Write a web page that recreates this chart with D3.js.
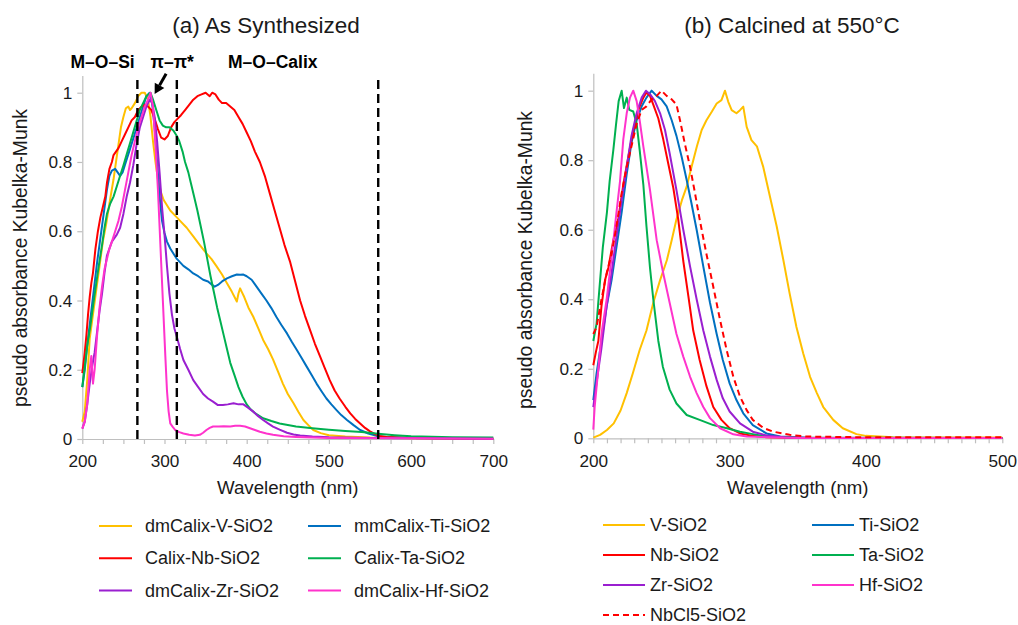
<!DOCTYPE html>
<html>
<head>
<meta charset="utf-8">
<script src="https://cdn.jsdelivr.net/npm/d3@7"></script>
<style>
  body { margin: 0; background: #fff; }
  svg { display: block; font-family: "Liberation Sans", Arial, sans-serif; }
</style>
</head>
<body>
<script>
// ---------- (a) As-synthesized spectra: [wavelength nm, pseudo absorbance] ----------
const asV = [[200,0.05],[203,0.08],[206,0.17],[209,0.29],[213,0.36],[217,0.43],[221,0.5],[225,0.57],[229,0.62],[233,0.68],[238,0.75],[241,0.8],[244,0.85],[247,0.9],[250,0.93],[253,0.955],[256,0.96],[258,0.95],[260,0.955],[264,0.97],[268,0.99],[272,1.0],[276,1.0],[280,0.98],[283,0.93],[286,0.86],[289,0.8],[292,0.75],[296,0.71],[299,0.69],[303,0.675],[307,0.66],[313,0.645],[319,0.63],[327,0.61],[335,0.585],[343,0.56],[351,0.536],[357,0.52],[363,0.5],[370,0.475],[376,0.45],[382,0.425],[388,0.397],[390,0.42],[392,0.435],[394,0.425],[397,0.41],[402,0.38],[408,0.353],[414,0.32],[420,0.286],[426,0.26],[432,0.23],[438,0.195],[444,0.16],[450,0.13],[457,0.103],[463,0.078],[469,0.055],[475,0.04],[481,0.026],[490,0.017],[500,0.011],[520,0.007],[550,0.004],[600,0.002],[650,0.001],[700,0.001]];
const asNb = [[200,0.19],[201,0.21],[203,0.25],[205,0.3],[207,0.36],[209,0.41],[211,0.45],[213,0.48],[216,0.55],[219,0.6],[222,0.64],[225,0.67],[228,0.7],[230,0.74],[233,0.78],[236,0.8],[238,0.82],[241,0.83],[244,0.84],[248,0.86],[252,0.88],[256,0.9],[260,0.92],[264,0.93],[268,0.95],[272,0.96],[276,0.965],[280,0.96],[284,0.95],[288,0.925],[292,0.895],[296,0.87],[300,0.865],[304,0.875],[308,0.9],[312,0.915],[316,0.925],[320,0.935],[325,0.95],[330,0.965],[335,0.98],[340,0.99],[345,0.995],[350,1.0],[355,0.99],[358,1.0],[362,0.995],[366,0.98],[370,0.97],[375,0.97],[380,0.96],[385,0.95],[390,0.93],[395,0.91],[400,0.885],[405,0.86],[410,0.83],[416,0.8],[422,0.76],[428,0.71],[434,0.66],[440,0.61],[446,0.56],[453,0.51],[459,0.455],[465,0.4],[471,0.355],[477,0.315],[483,0.275],[489,0.24],[495,0.205],[501,0.17],[507,0.14],[513,0.117],[520,0.093],[526,0.074],[532,0.058],[538,0.045],[544,0.032],[550,0.022],[556,0.014],[561,0.009],[570,0.006],[600,0.003],[650,0.002],[700,0.001]];
const asZr = [[200,0.03],[203,0.05],[206,0.1],[209,0.16],[212,0.21],[215,0.25],[218,0.31],[221,0.37],[224,0.42],[227,0.48],[230,0.53],[233,0.55],[236,0.57],[239,0.58],[242,0.59],[246,0.61],[250,0.65],[254,0.7],[258,0.74],[262,0.79],[266,0.85],[270,0.9],[274,0.93],[278,0.96],[282,0.98],[285,0.97],[288,0.93],[291,0.86],[294,0.77],[297,0.67],[300,0.59],[303,0.5],[306,0.42],[309,0.36],[312,0.32],[315,0.295],[319,0.26],[323,0.228],[329,0.2],[335,0.17],[341,0.15],[347,0.13],[353,0.117],[359,0.108],[365,0.098],[371,0.098],[377,0.1],[384,0.103],[390,0.1],[396,0.1],[402,0.09],[408,0.079],[414,0.066],[420,0.055],[426,0.045],[432,0.036],[440,0.027],[449,0.018],[457,0.013],[465,0.01],[480,0.007],[500,0.005],[550,0.003],[600,0.002],[700,0.001]];
const asTi = [[200,0.15],[203,0.2],[206,0.27],[210,0.35],[214,0.43],[218,0.51],[222,0.58],[226,0.65],[230,0.72],[233,0.76],[236,0.775],[240,0.78],[243,0.77],[246,0.76],[249,0.77],[253,0.8],[257,0.83],[261,0.86],[265,0.89],[270,0.93],[274,0.96],[278,0.99],[282,1.0],[285,0.97],[288,0.9],[291,0.8],[294,0.7],[297,0.63],[300,0.595],[303,0.57],[307,0.55],[311,0.535],[315,0.52],[319,0.51],[323,0.5],[329,0.49],[335,0.478],[341,0.47],[347,0.46],[353,0.455],[358,0.445],[361,0.44],[365,0.445],[370,0.455],[376,0.464],[382,0.47],[388,0.475],[392,0.474],[396,0.475],[400,0.47],[406,0.46],[412,0.44],[418,0.42],[424,0.4],[430,0.378],[436,0.353],[442,0.33],[449,0.305],[455,0.28],[461,0.257],[467,0.233],[473,0.209],[479,0.185],[485,0.16],[491,0.138],[497,0.117],[503,0.1],[509,0.084],[515,0.069],[522,0.055],[530,0.04],[538,0.026],[548,0.016],[558,0.009],[570,0.006],[600,0.003],[650,0.002],[700,0.001]];
const asTa = [[200,0.15],[203,0.21],[206,0.27],[210,0.33],[214,0.4],[217,0.45],[220,0.5],[224,0.56],[227,0.61],[230,0.65],[234,0.68],[238,0.7],[242,0.73],[246,0.76],[250,0.79],[255,0.83],[260,0.87],[265,0.91],[270,0.95],[274,0.97],[278,0.99],[283,1.0],[286,0.98],[290,0.95],[294,0.92],[298,0.905],[302,0.9],[306,0.9],[311,0.89],[315,0.875],[318,0.86],[322,0.83],[325,0.8],[329,0.77],[332,0.74],[336,0.7],[340,0.66],[344,0.615],[348,0.57],[352,0.52],[356,0.47],[360,0.425],[364,0.38],[368,0.34],[372,0.3],[376,0.26],[380,0.22],[385,0.185],[390,0.15],[395,0.122],[400,0.1],[405,0.085],[410,0.075],[420,0.06],[430,0.052],[440,0.045],[460,0.036],[480,0.031],[500,0.027],[520,0.023],[540,0.02],[560,0.015],[580,0.011],[600,0.008],[650,0.005],[700,0.004]];
const asHf = [[200,0.03],[203,0.05],[206,0.1],[209,0.2],[211,0.24],[213,0.16],[215,0.2],[218,0.3],[221,0.38],[224,0.44],[227,0.49],[230,0.52],[233,0.55],[236,0.57],[240,0.6],[244,0.63],[248,0.67],[252,0.72],[256,0.77],[260,0.82],[264,0.86],[268,0.9],[272,0.93],[276,0.96],[280,0.98],[283,1.0],[286,0.96],[289,0.85],[292,0.72],[295,0.56],[298,0.4],[301,0.24],[303,0.14],[305,0.08],[307,0.045],[310,0.035],[313,0.026],[318,0.02],[323,0.016],[330,0.012],[337,0.01],[343,0.012],[347,0.018],[351,0.026],[355,0.032],[359,0.036],[366,0.036],[372,0.037],[380,0.036],[386,0.038],[392,0.038],[398,0.036],[404,0.031],[410,0.026],[416,0.021],[424,0.016],[432,0.012],[445,0.008],[460,0.006],[480,0.004],[500,0.003],[600,0.002],[700,0.001]];

// ---------- (b) Calcined at 550 °C ----------
const calV = [[200,0.002],[205,0.01],[210,0.024],[215,0.043],[220,0.08],[224.5,0.13],[229,0.187],[234,0.254],[239,0.31],[244,0.39],[249,0.455],[254,0.513],[257.5,0.57],[261,0.63],[265,0.685],[268.5,0.724],[272,0.78],[276,0.84],[279.5,0.887],[283,0.915],[287,0.94],[290.5,0.963],[294,0.973],[296.6,1.0],[299,0.968],[301.5,0.944],[305,0.935],[307.6,0.944],[310,0.954],[312.5,0.896],[316,0.858],[320,0.84],[324.7,0.78],[329.6,0.695],[334.5,0.61],[339.4,0.513],[344,0.417],[349,0.32],[354,0.244],[359,0.177],[364,0.13],[368.7,0.09],[376,0.053],[383,0.029],[393,0.012],[400,0.007],[420,0.003],[500,0.002]];
const calNb = [[200,0.21],[202,0.25],[203.7,0.28],[206,0.38],[208.6,0.455],[211,0.49],[214.7,0.57],[218.3,0.63],[222,0.73],[225.7,0.81],[229.3,0.885],[233,0.945],[236.7,0.98],[239,0.995],[241.6,0.985],[244,0.96],[247.7,0.92],[251.3,0.86],[255,0.79],[258.7,0.72],[262.3,0.63],[266,0.51],[269.7,0.41],[273.3,0.31],[278,0.225],[283,0.15],[288,0.09],[294,0.053],[300,0.029],[307.6,0.014],[317,0.007],[327,0.003],[350,0.001],[500,0.001]];
const calZr = [[200,0.09],[202.4,0.16],[206,0.26],[209.8,0.38],[213.4,0.475],[217,0.58],[220.8,0.685],[224.5,0.78],[228,0.87],[231.8,0.935],[235.5,0.98],[238.6,1.0],[241.6,0.99],[245.2,0.97],[249,0.935],[252.6,0.887],[256,0.82],[261,0.714],[266,0.6],[271,0.494],[275.8,0.4],[280.7,0.31],[285.6,0.235],[290.5,0.168],[295,0.115],[300,0.077],[307.6,0.043],[317,0.019],[327,0.008],[340,0.003],[360,0.001],[500,0.001]];
const calTi = [[200,0.11],[202.4,0.187],[206,0.28],[209.8,0.38],[213.4,0.455],[217,0.55],[220.8,0.65],[224.5,0.76],[228,0.85],[231.8,0.915],[235.5,0.955],[239,0.98],[242.8,1.0],[246.5,0.985],[250,0.975],[253.8,0.955],[257.5,0.915],[261,0.87],[264.8,0.81],[268.5,0.743],[272,0.676],[275.8,0.6],[280.7,0.494],[285.6,0.39],[290.5,0.3],[295,0.225],[300,0.158],[305,0.11],[310,0.072],[317,0.038],[327,0.014],[337,0.005],[360,0.001],[500,0.001]];
const calTa = [[200,0.28],[202.4,0.33],[205,0.455],[207,0.55],[210,0.65],[212,0.74],[214.7,0.83],[216.6,0.9],[218.6,0.97],[220.8,1.0],[222.5,0.95],[224.5,0.98],[226.4,0.945],[229.3,0.94],[231.8,0.905],[234,0.83],[236.7,0.73],[239,0.61],[241.6,0.49],[244,0.4],[247.7,0.28],[251,0.206],[256,0.14],[261,0.1],[268.5,0.067],[278,0.053],[288,0.038],[298,0.029],[307.6,0.019],[317,0.012],[327,0.005],[350,0.002],[500,0.001]];
const calHf = [[200,0.025],[201,0.09],[203.7,0.2],[206,0.3],[209.8,0.4],[213.4,0.52],[217,0.65],[219.6,0.74],[222,0.86],[224.5,0.935],[226.9,0.98],[229.3,1.0],[231.8,0.97],[234,0.915],[236.7,0.84],[241.6,0.714],[246.5,0.57],[251.3,0.475],[256,0.39],[261,0.3],[266,0.235],[271,0.177],[275.8,0.13],[280.7,0.09],[285.6,0.058],[293,0.029],[302.7,0.0115],[312.5,0.005],[350,0.001],[500,0.001]];
const calNbCl5 = [[200,0.3],[202.4,0.32],[206,0.4],[209.8,0.475],[213.4,0.53],[217,0.61],[220.8,0.705],[224.5,0.78],[228,0.84],[231.8,0.905],[235.5,0.945],[239,0.955],[242.8,0.975],[246.5,0.985],[250,1.0],[253.8,0.985],[257.5,0.975],[261,0.96],[263.6,0.915],[267,0.85],[271,0.78],[274.6,0.705],[278,0.63],[283,0.53],[288,0.436],[293,0.34],[297.8,0.254],[302.7,0.177],[307.6,0.12],[312.5,0.081],[317,0.053],[324.7,0.03],[332,0.019],[344,0.01],[356.5,0.005],[400,0.003],[500,0.003]];

// ---------- annotations for panel (a) ----------
const bandEdges = [267, 315, 560];            // nm, dashed dividers
const bandLabels = ["M–O–Si", "π–π*", "M–O–Calix"];

// ---------- axis ticks ----------
const yTicks = [0, 0.2, 0.4, 0.6, 0.8, 1];
const xTicksA = d3.range(200, 701, 25);
const xTicksB = d3.range(200, 501, 10);

const colors = {
  V: "#FFC000", Nb: "#FF0000", Zr: "#9A1FD0",
  Ti: "#0070C0", Ta: "#00B050", Hf: "#FF33CC"
};

const seriesA = [
  { name: "dmCalix-V-SiO2", data: asV, color: colors.V },
  { name: "mmCalix-Ti-SiO2", data: asTi, color: colors.Ti },
  { name: "Calix-Nb-SiO2", data: asNb, color: colors.Nb },
  { name: "Calix-Ta-SiO2", data: asTa, color: colors.Ta },
  { name: "dmCalix-Zr-SiO2", data: asZr, color: colors.Zr },
  { name: "dmCalix-Hf-SiO2", data: asHf, color: colors.Hf }
];
const seriesB = [
  { name: "V-SiO2", data: calV, color: colors.V },
  { name: "Ti-SiO2", data: calTi, color: colors.Ti },
  { name: "Nb-SiO2", data: calNb, color: colors.Nb },
  { name: "Ta-SiO2", data: calTa, color: colors.Ta },
  { name: "Zr-SiO2", data: calZr, color: colors.Zr },
  { name: "Hf-SiO2", data: calHf, color: colors.Hf },
  { name: "NbCl5-SiO2", data: calNbCl5, color: colors.Nb, dash: "6,4" }
];

const svg = d3.select("body").append("svg")
  .attr("width", 1018).attr("height", 625);

const textColor = "#1a1a1a";
const axisColor = "#BFBFBF";

function drawPanel(p) {
  const x = d3.scaleLinear().domain(p.xDomain).range(p.xRange);
  const y = d3.scaleLinear().domain([0, 1.05]).range(p.yRange);
  const g = svg.append("g");

  // x axis
  const xa = g.append("g")
    .attr("transform", `translate(0,${y(0)})`)
    .call(d3.axisBottom(x).tickValues(p.xTicks)
      .tickSize(5).tickSizeOuter(0).tickPadding(11)
      .tickFormat(d => d % 100 === 0 ? d : ""));
  // y axis
  const ya = g.append("g")
    .attr("transform", `translate(${x(p.xDomain[0])},0)`)
    .call(d3.axisLeft(y).tickValues(yTicks)
      .tickSize(5).tickSizeOuter(0).tickPadding(5)
      .tickFormat(d => String(d)));
  [xa, ya].forEach(a => {
    a.selectAll("path, line").attr("stroke", axisColor).attr("stroke-width", 1.2);
    a.selectAll("text").attr("fill", textColor)
      .style("font-size", "17.2px").style("font-family", "Liberation Sans, Arial, sans-serif");
  });

  // curves
  const line = d3.line().x(d => x(d[0])).y(d => y(d[1]));
  p.series.forEach(s => {
    g.append("path").datum(s.data)
      .attr("d", line).attr("fill", "none")
      .attr("stroke", s.color).attr("stroke-width", 2)
      .attr("stroke-linejoin", "round")
      .attr("stroke-dasharray", s.dash || null);
  });

  // titles
  g.append("text").attr("x", p.titleX).attr("y", 33)
    .attr("text-anchor", "middle").attr("fill", textColor)
    .style("font-size", "22.5px").text(p.title);
  g.append("text")
    .attr("x", (p.xRange[0] + p.xRange[1]) / 2).attr("y", 494)
    .attr("text-anchor", "middle").attr("fill", textColor)
    .style("font-size", "18.7px").text("Wavelength (nm)");
  g.append("text")
    .attr("transform", `translate(${p.yLabelX},${p.yLabelY}) rotate(-90)`)
    .attr("text-anchor", "middle").attr("fill", textColor)
    .style("font-size", "19.3px").text("pseudo absorbance Kubelka-Munk");

  // legend
  p.series.forEach((s, i) => {
    const col = i % 2, row = Math.floor(i / 2);
    const lx = p.legend.x[col], ly = p.legend.y0 + row * p.legend.dy;
    g.append("line")
      .attr("x1", lx).attr("x2", lx + p.legend.len)
      .attr("y1", ly).attr("y2", ly)
      .attr("stroke", s.color).attr("stroke-width", 2)
      .attr("stroke-dasharray", s.dash || null);
    g.append("text")
      .attr("x", lx + p.legend.len + p.legend.gap).attr("y", ly + 6)
      .attr("fill", textColor).style("font-size", "18px").text(s.name);
  });

  return { g, x, y };
}

const A = drawPanel({
  xDomain: [200, 700], xRange: [82.3, 493.3], yRange: [439, 75.4],
  xTicks: xTicksA, series: seriesA,
  title: "(a) As Synthesized", titleX: 266,
  yLabelX: 27, yLabelY: 258,
  legend: { x: [99, 308], y0: 526, dy: 32.3, len: 33, gap: 13 }
});

const B = drawPanel({
  xDomain: [200, 500], xRange: [593.3, 1002.3], yRange: [438.3, 73.3],
  xTicks: xTicksB, series: seriesB,
  title: "(b) Calcined at 550°C", titleX: 792,
  yLabelX: 532, yLabelY: 260,
  legend: { x: [603, 812], y0: 525, dy: 30, len: 42, gap: 5 }
});

// dashed band dividers in panel (a)
bandEdges.forEach(nm => {
  A.g.append("line")
    .attr("x1", A.x(nm)).attr("x2", A.x(nm))
    .attr("y1", A.y(0)).attr("y2", A.y(1.05))
    .attr("stroke", "#000").attr("stroke-width", 2.4)
    .attr("stroke-dasharray", "9,5");
});

// band labels
const labelX = [70.5, 150.5, 228];
bandLabels.forEach((t, i) => {
  A.g.append("text").attr("x", labelX[i]).attr("y", 68)
    .attr("fill", "#000").style("font-size", "17.5px").style("font-weight", "bold")
    .text(t);
});

// arrow pointing at the π–π* maximum
(function () {
  const x0 = A.x(302), y0 = A.y(1.055), x1 = A.x(288), y1 = A.y(0.996);
  const dx = x1 - x0, dy = y1 - y0, L = Math.hypot(dx, dy);
  const ux = dx / L, uy = dy / L, head = 10, half = 5.5;
  const bx = x1 - ux * head, by = y1 - uy * head;
  A.g.append("line").attr("x1", x0).attr("y1", y0).attr("x2", bx).attr("y2", by)
    .attr("stroke", "#000").attr("stroke-width", 3);
  A.g.append("path")
    .attr("d", `M${x1},${y1}L${bx - uy * half},${by + ux * half}L${bx + uy * half},${by - ux * half}Z`)
    .attr("fill", "#000");
})();
</script>
</body>
</html>
